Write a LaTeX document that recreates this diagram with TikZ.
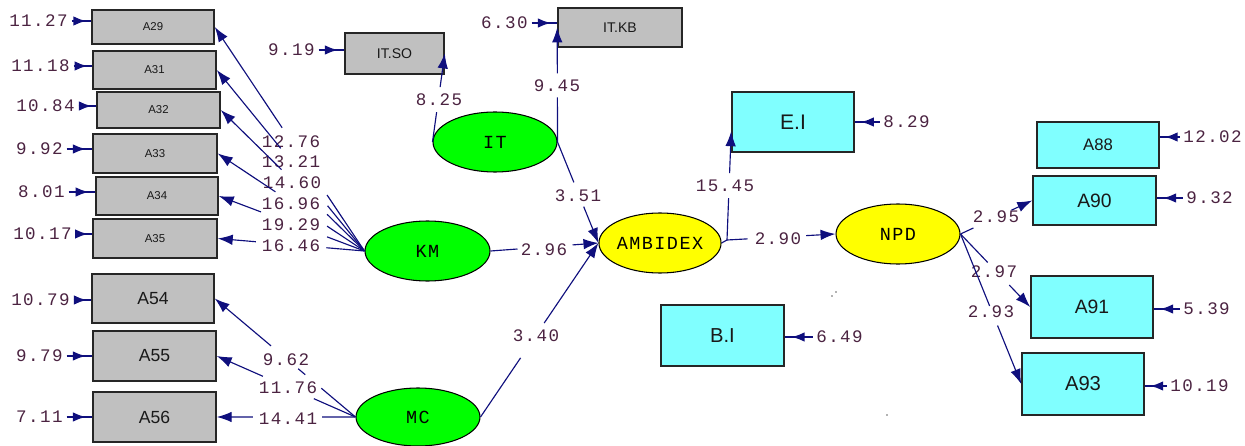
\documentclass[tikz,border=0pt]{standalone}
\usepackage{fontspec}
\setmainfont{Liberation Sans}
\newfontfamily\numfont[LetterSpace=8]{Liberation Mono}
\usetikzlibrary{arrows.meta,calc,shapes.geometric,decorations.markings}

\definecolor{pathblue}{RGB}{15,15,125}
\definecolor{numcol}{RGB}{75,35,65}
\definecolor{boxgray}{RGB}{192,192,192}
\definecolor{boxcyan}{RGB}{128,255,255}
\definecolor{latgreen}{RGB}{0,255,0}
\definecolor{latyellow}{RGB}{255,255,0}

% a path interrupted between fractions #3 and #4, arrow at the far end
\newcommand\brokenlink[4]{\draw[arr] (#1) -- ($(#1)!#3!(#2)$) ($(#1)!#4!(#2)$) -- (#2);}

\begin{document}
\begin{tikzpicture}[x=0.02cm,y=-0.02cm,
  obs/.style={draw=black!85,line width=0.9pt,inner sep=0,text=black!90},
  gbox/.style={obs,fill=boxgray},
  cbox/.style={obs,fill=boxcyan},
  smalltxt/.style={font=\fontsize{6.5}{7}\selectfont},
  lat/.style={ellipse,draw=black,line width=0.6pt,inner sep=0,
    font=\numfont\fontsize{10.5}{12}\selectfont},
  num/.style={text=numcol,inner xsep=2pt,inner ysep=0pt,
    font=\numfont\fontsize{10}{12}\selectfont},
  link/.style={draw=pathblue,line width=0.65pt},
  arr/.style={link,-{Latex[length=8.5pt,width=6pt]}},
  err/.style={draw=pathblue,line width=1.3pt,postaction={decorate},
    decoration={markings,mark=at position 0.76 with {\arrow{Latex[length=7.5pt,width=5.5pt]}}}},
]
\useasboundingbox (0,0) rectangle (1245,446);

% ---------- observed variables, left column ----------
\node[gbox,smalltxt,minimum width=2.44cm,minimum height=0.68cm] (A29) at (153,27) {A29};
\node[gbox,smalltxt,minimum width=2.46cm,minimum height=0.76cm] (A31) at (154.5,70) {A31};
\node[gbox,smalltxt,minimum width=2.46cm,minimum height=0.72cm] (A32) at (158.5,110) {A32};
\node[gbox,smalltxt,minimum width=2.48cm,minimum height=0.78cm] (A33) at (155,153.5) {A33};
\node[gbox,smalltxt,minimum width=2.44cm,minimum height=0.76cm] (A34) at (157,196) {A34};
\node[gbox,smalltxt,minimum width=2.48cm,minimum height=0.78cm] (A35) at (155,238.5) {A35};
\node[gbox,font=\fontsize{10}{12}\selectfont,minimum width=2.44cm,minimum height=0.98cm] (A54) at (153,298.5) {A54};
\node[gbox,font=\fontsize{10}{12}\selectfont,minimum width=2.46cm,minimum height=1.0cm] (A55) at (154.5,356) {A55};
\node[gbox,font=\fontsize{10}{12}\selectfont,minimum width=2.46cm,minimum height=1.0cm] (A56) at (154.5,417) {A56};

% ---------- IT indicators ----------
\node[gbox,font=\fontsize{8}{9}\selectfont,minimum width=1.98cm,minimum height=0.82cm] (ITSO) at (394.5,53.5) {IT.SO};
\node[gbox,font=\fontsize{8}{9}\selectfont,minimum width=2.48cm,minimum height=0.78cm] (ITKB) at (620,27.5) {IT.KB};

% ---------- outcome indicators ----------
\node[cbox,font=\fontsize{12}{14}\selectfont,minimum width=2.44cm,minimum height=1.2cm] (EI) at (793,122) {E.I};
\node[cbox,font=\fontsize{11.5}{14}\selectfont,minimum width=2.46cm,minimum height=1.22cm] (BI) at (722.5,335.5) {B.I};
\node[cbox,font=\fontsize{9.5}{11}\selectfont,minimum width=2.44cm,minimum height=0.92cm] (A88) at (1098,145) {A88};
\node[cbox,font=\fontsize{11}{13}\selectfont,minimum width=2.46cm,minimum height=0.98cm] (A90) at (1094.5,200.5) {A90};
\node[cbox,font=\fontsize{11}{13}\selectfont,minimum width=2.44cm,minimum height=1.24cm] (A91) at (1092,307) {A91};
\node[cbox,font=\fontsize{11.5}{13}\selectfont,minimum width=2.44cm,minimum height=1.24cm] (A93) at (1083,384) {A93};

% ---------- latent variables ----------
\node[lat,fill=latgreen,minimum width=2.48cm,minimum height=1.2cm] (IT) at (495,142) {IT};
\node[lat,fill=latgreen,minimum width=2.5cm,minimum height=1.2cm] (KM) at (427.5,251) {KM};
\node[lat,fill=latgreen,minimum width=2.48cm,minimum height=1.16cm] (MC) at (418,417) {MC};
\node[lat,fill=latyellow,minimum width=2.44cm,minimum height=1.2cm] (AMB) at (660,243) {AMBIDEX};
\node[lat,fill=latyellow,minimum width=2.48cm,minimum height=1.2cm] (NPD) at (898,234) {NPD};

% ---------- error variances ----------
\node[num,anchor=east] (e29) at (71.5,21) {11.27};
\node[num,anchor=east] (e31) at (73.5,66) {11.18};
\node[num,anchor=east] (e32) at (78.5,106) {10.84};
\node[num,anchor=east] (e33) at (66.5,149) {9.92};
\node[num,anchor=east] (e34) at (68.5,192) {8.01};
\node[num,anchor=east] (e35) at (75.5,234) {10.17};
\node[num,anchor=east] (e54) at (73.5,300) {10.79};
\node[num,anchor=east] (e55) at (66.5,356) {9.79};
\node[num,anchor=east] (e56) at (66.5,417) {7.11};
\node[num,anchor=east] (eso) at (318.5,50) {9.19};
\node[num,anchor=east] (ekb) at (531.5,23) {6.30};
\node[num,anchor=west] (eei) at (879.5,122) {8.29};
\node[num,anchor=west] (e88) at (1179.5,137) {12.02};
\node[num,anchor=west] (e90) at (1182.5,198) {9.32};
\node[num,anchor=west] (e91) at (1179.5,309) {5.39};
\node[num,anchor=west] (e93) at (1166.5,386) {10.19};
\node[num,anchor=west] (ebi) at (812.5,337) {6.49};

\foreach \e/\b in {e29/A29,e31/A31,e32/A32,e33/A33,e34/A34,e35/A35,
                   e54/A54,e55/A55,e56/A56,eso/ITSO,ekb/ITKB}
  \draw[err] (\e.east) -- (\e.east -| \b.west);
\foreach \e/\b in {eei/EI,e88/A88,e90/A90,e91/A91,e93/A93,ebi/BI}
  \draw[err] (\e.west) -- (\e.west -| \b.east);

% ---------- loadings and path coefficients ----------
\node[num] (l1) at (291,142) {12.76};
\node[num] (l2) at (291,162) {13.21};
\node[num] (l3) at (292,183) {14.60};
\node[num] (l4) at (291,204) {16.96};
\node[num] (l5) at (291,225) {19.29};
\node[num] (l6) at (291,246) {16.46};
\node[num] (m1) at (286,360) {9.62};
\node[num] (m2) at (288,388) {11.76};
\node[num] (m3) at (288,419) {14.41};
\node[num] (i1) at (439,100) {8.25};
\node[num] (i2) at (557,86) {9.45};
\node[num] (s1) at (578,196) {3.51};
\node[num] (s2) at (544,250) {2.96};
\node[num] (s3) at (536,336) {3.40};
\node[num] (s4) at (725,186) {15.45};
\node[num] (s5) at (778,239) {2.90};
\node[num] (n1) at (996,217) {2.95};
\node[num] (n2) at (994,272) {2.97};
\node[num] (n3) at (991,312) {2.93};

% KM loadings
\brokenlink{KM.west}{A29.east}{0.25}{0.55}
\brokenlink{KM.west}{A31.east}{0.25}{0.567}
\brokenlink{KM.west}{A32.east}{0.26}{0.577}
\brokenlink{KM.west}{A33.east}{0.255}{0.607}
\brokenlink{KM.west}{A34.east}{0.257}{0.71}
\brokenlink{KM.west}{A35.east}{0.26}{0.74}

% MC loadings
\draw[arr] (MC.west) -- ($(MC.west)!0.243!(A54.east)$)
  ($(MC.west)!0.357!(A54.east)$) -- ($(MC.west)!0.407!(A54.east)$)
  ($(MC.west)!0.6!(A54.east)$) -- (A54.east);
\brokenlink{MC.west}{A55.east}{0.30}{0.667}
\brokenlink{MC.west}{A56.east}{0.24}{0.74}

% IT loadings
\brokenlink{IT.west}{ITSO.east}{0.337}{0.62}
\brokenlink{IT.east}{ITKB.west}{0.39}{0.6}

% structural paths
\brokenlink{IT.east}{AMB.west}{0.40}{0.64}
\brokenlink{KM.east}{AMB.west}{0.25}{0.76}
\brokenlink{MC.east}{AMB.west}{0.34}{0.54}

\coordinate (ambout) at (727,240);
\coordinate (eitip) at ($(EI.south west)!0.35!(EI.north west)$);
\draw[link] (AMB.east) -- (ambout);
\brokenlink{ambout}{eitip}{0.385}{0.615}
\brokenlink{ambout}{NPD.west}{0.19}{0.73}

% NPD loadings
\brokenlink{NPD.east}{A90.west}{0.18}{0.71}
\brokenlink{NPD.east}{A91.west}{0.39}{0.70}
\brokenlink{NPD.east}{A93.west}{0.48}{0.61}

% small specks
\fill[black!60] (832,296) circle (0.45pt) (836,292) circle (0.45pt) (887,415) circle (0.45pt);
\end{tikzpicture}
\end{document}
